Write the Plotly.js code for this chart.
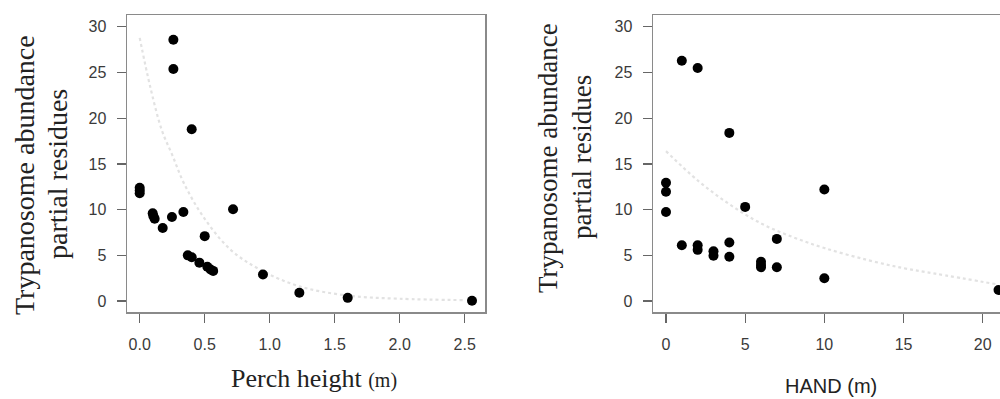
<!DOCTYPE html>
<html>
<head>
<meta charset="utf-8">
<script src="https://cdn.plot.ly/plotly-3.0.1.min.js"></script>
<style>
  html, body { margin: 0; padding: 0; background: #fff; overflow: hidden; }
  #chart { width: 1020px; height: 399px; }
</style>
</head>
<body>
<div id="chart"></div>
<script>
// Left panel: Perch height (m) vs partial residues
const perchX = [0.259, 0.259, 0.40, 0.0, 0.0, 0.0, 0.10, 0.105, 0.115, 0.177, 0.248, 0.336, 0.718, 0.50,
                0.37, 0.40, 0.459, 0.52, 0.545, 0.565, 0.948, 1.228, 1.60, 2.556];
const perchY = [28.6, 25.4, 18.8, 12.4, 12.1, 11.8, 9.6, 9.3, 9.0, 8.0, 9.2, 9.75, 10.05, 7.1,
                5.0, 4.8, 4.2, 3.75, 3.45, 3.3, 2.9, 0.9, 0.35, 0.03];
const perchFitX = [0.0, 0.08, 0.17, 0.25, 0.34, 0.49, 0.70, 0.93, 1.23, 1.60, 2.00, 2.50];
const perchFitY = [28.8, 23.5, 18.7, 16.0, 12.9, 9.2, 5.6, 3.4, 1.6, 0.6, 0.25, 0.1];
const perchTicks = [0, 0.5, 1.0, 1.5, 2.0, 2.5];

// Right panel: HAND (m) vs partial residues
const handX = [1, 2, 4, 0, 0, 0, 10, 5, 1, 2, 2, 3, 3, 4, 4, 6, 6, 6, 7, 7, 10, 21];
const handY = [26.3, 25.5, 18.4, 12.95, 11.95, 9.75, 12.2, 10.3, 6.1, 6.1, 5.6, 5.45, 4.95, 6.4, 4.85,
               4.3, 3.95, 3.7, 6.8, 3.7, 2.5, 1.2];
const handFitX = [0, 2, 4, 6, 8, 10, 12.7, 15, 17, 21];
const handFitY = [16.4, 13.2, 10.6, 8.5, 7.0, 5.8, 4.5, 3.6, 3.0, 1.8];
const handTicks = [0, 5, 10, 15, 20];

const yTicks = [0, 5, 10, 15, 20, 25, 30];

const W = 1020, H = 399;
const px = v => v / W;
const py = v => 1 - v / H;

const axisStyle = {
  showline: true, mirror: true, linecolor: '#8a8a8a', linewidth: 1.5,
  ticks: 'outside', ticklen: 9, tickwidth: 1.2, tickcolor: '#666',
  showgrid: false, zeroline: false,
  tickfont: { family: 'Liberation Sans, Arial, sans-serif', size: 16, color: '#3a3a3a' }
};

const traces = [
  { x: perchFitX, y: perchFitY, mode: 'lines', line: { color: '#e2e2e2', width: 2.2, dash: 'dot', shape: 'spline' },
    xaxis: 'x', yaxis: 'y', hoverinfo: 'skip' },
  { x: perchX, y: perchY, mode: 'markers', marker: { color: '#000', size: 10 }, xaxis: 'x', yaxis: 'y' },
  { x: handFitX, y: handFitY, mode: 'lines', line: { color: '#e2e2e2', width: 2.2, dash: 'dot', shape: 'spline' },
    xaxis: 'x2', yaxis: 'y2', hoverinfo: 'skip' },
  { x: handX, y: handY, mode: 'markers', marker: { color: '#000', size: 10 }, xaxis: 'x2', yaxis: 'y2' }
];

const serif = 'Liberation Serif, Times New Roman, serif';
const sans = 'Liberation Sans, Arial, sans-serif';

const layout = {
  width: W, height: H,
  margin: { l: 0, r: 0, t: 0, b: 0 },
  paper_bgcolor: '#fff', plot_bgcolor: '#fff',
  showlegend: false,
  xaxis: Object.assign({}, axisStyle, {
    domain: [px(127), px(485)], range: [-0.0977, 2.656],
    tickvals: perchTicks, tickformat: '.1f', anchor: 'y', ticklabelstandoff: 8
  }),
  yaxis: Object.assign({}, axisStyle, {
    domain: [1 - 312 / H, 1 - 15 / H], range: [-1.2, 31.3],
    tickvals: yTicks, anchor: 'x', ticklabelstandoff: 7
  }),
  xaxis2: Object.assign({}, axisStyle, {
    domain: [px(653), px(1012)], range: [-0.82, 21.85],
    tickvals: handTicks, anchor: 'y2', ticklabelstandoff: 8
  }),
  yaxis2: Object.assign({}, axisStyle, {
    domain: [1 - 312 / H, 1 - 15 / H], range: [-1.2, 31.3],
    tickvals: yTicks, anchor: 'x2', ticklabelstandoff: 7
  }),
  annotations: [
    { text: 'Trypanosome abundance', x: px(24), y: py(175), textangle: -90 , font: { family: serif, size: 28, color: '#222' } },
    { text: 'partial residues', x: px(57), y: py(174), textangle: -90, font: { family: serif, size: 28, color: '#222' } },
    { text: 'Trypanosome abundance', x: px(548), y: py(158), textangle: -90, font: { family: serif, size: 27, color: '#222' } },
    { text: 'partial residues', x: px(582), y: py(157), textangle: -90, font: { family: serif, size: 27, color: '#222' } },
    { text: 'Perch height <span style="font-size:20px">(m)</span>', x: px(314), y: py(378),
      font: { family: serif, size: 26, color: '#222' } },
    { text: 'HAND (m)', x: px(831), y: py(386), font: { family: sans, size: 20, color: '#222' } }
  ].map(a => Object.assign({ xref: 'paper', yref: 'paper', showarrow: false, xanchor: 'center', yanchor: 'middle' }, a))
};

Plotly.newPlot('chart', traces, layout, { displayModeBar: false, staticPlot: true });
</script>
</body>
</html>
